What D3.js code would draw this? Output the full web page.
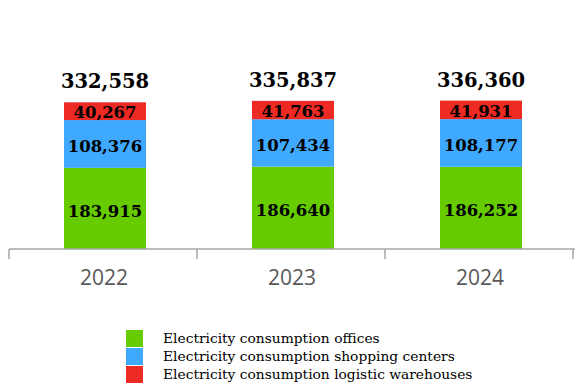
<!DOCTYPE html>
<html><head><meta charset="utf-8">
<script src="https://cdn.jsdelivr.net/npm/d3@7"></script>
<style>body{margin:0;background:#fff}</style>
</head><body>
<svg id="c" width="575" height="385"></svg>
<script>
const years = ["2022", "2023", "2024"];
const offices = [183915, 186640, 186252];
const shopping = [108376, 107434, 108177];
const logistic = [40267, 41763, 41931];
const seriesNames = ["Electricity consumption offices", "Electricity consumption shopping centers", "Electricity consumption logistic warehouses"];
const colors = ["#66CC00", "#3FA9FF", "#EE2A24"];

const svg = d3.select("#c");
const baseY = 249;
const x = d3.scaleBand().domain(years).range([9, 573]).paddingInner(0).paddingOuter(0);
const y = d3.scaleLinear().domain([0, 332558]).range([baseY, 102.3]);
const barW = 82, shift = 2;
const serif = "'DejaVu Serif', Georgia, serif";

const rows = years.map((yr, i) => ({year: yr, offices: offices[i], shopping: shopping[i], logistic: logistic[i]}));
const stack = d3.stack().keys(["offices", "shopping", "logistic"])(rows);
const labelOff = [8.5, 8.5, 7];

stack.forEach((layer, li) => {
  svg.append("g").selectAll("rect").data(layer).join("rect")
    .attr("x", d => x(d.data.year) + x.bandwidth()/2 - barW/2 + shift)
    .attr("width", barW)
    .attr("y", d => y(d[1]))
    .attr("height", d => y(d[0]) - y(d[1]))
    .attr("fill", colors[li]);
  svg.append("g").selectAll("text").data(layer).join("text")
    .attr("x", d => x(d.data.year) + x.bandwidth()/2 + shift)
    .attr("y", d => (y(d[0]) + y(d[1]))/2 + labelOff[li])
    .attr("text-anchor", "middle")
    .attr("font-family", serif).attr("font-weight", "bold").attr("font-size", 16.5)
    .attr("fill", "#000")
    .text(d => d3.format(",")(d[1] - d[0]));
});

// totals
svg.append("g").selectAll("text").data(rows).join("text")
  .attr("x", d => x(d.year) + x.bandwidth()/2 + shift)
  .attr("y", d => y(d.offices + d.shopping + d.logistic) - 14)
  .attr("text-anchor", "middle")
  .attr("font-family", serif).attr("font-weight", "bold").attr("font-size", 19.5)
  .attr("fill", "#000")
  .text(d => d3.format(",")(d.offices + d.shopping + d.logistic));

// axis
const axis = svg.append("g");
axis.append("line").attr("x1", 9).attr("x2", 575).attr("y1", baseY).attr("y2", baseY)
  .attr("stroke", "#A6A6A6").attr("stroke-width", 1.5);
const tickPos = years.map(yr => x(yr)).concat([x.range()[1]]);
axis.selectAll("line.t").data(tickPos).join("line").attr("class", "t")
  .attr("x1", d => d).attr("x2", d => d).attr("y1", baseY).attr("y2", baseY + 10)
  .attr("stroke", "#A6A6A6").attr("stroke-width", 1.5);
axis.selectAll("text").data(years).join("text")
  .attr("x", d => x(d) + x.bandwidth()/2 + 1)
  .attr("y", 285)
  .attr("text-anchor", "middle")
  .attr("font-family", "'Open Sans', sans-serif").attr("font-size", 21)
  .attr("fill", "#595959")
  .text(d => d);

// legend
const lg = svg.append("g");
seriesNames.forEach((n, i) => {
  lg.append("rect").attr("x", 126).attr("y", 330 + i*18).attr("width", 17).attr("height", 17).attr("fill", colors[i]);
  lg.append("text").attr("x", 163).attr("y", 343 + i*18)
    .attr("font-family", serif).attr("font-size", 13.8).attr("fill", "#000").text(n);
});
</script>
</body></html>
